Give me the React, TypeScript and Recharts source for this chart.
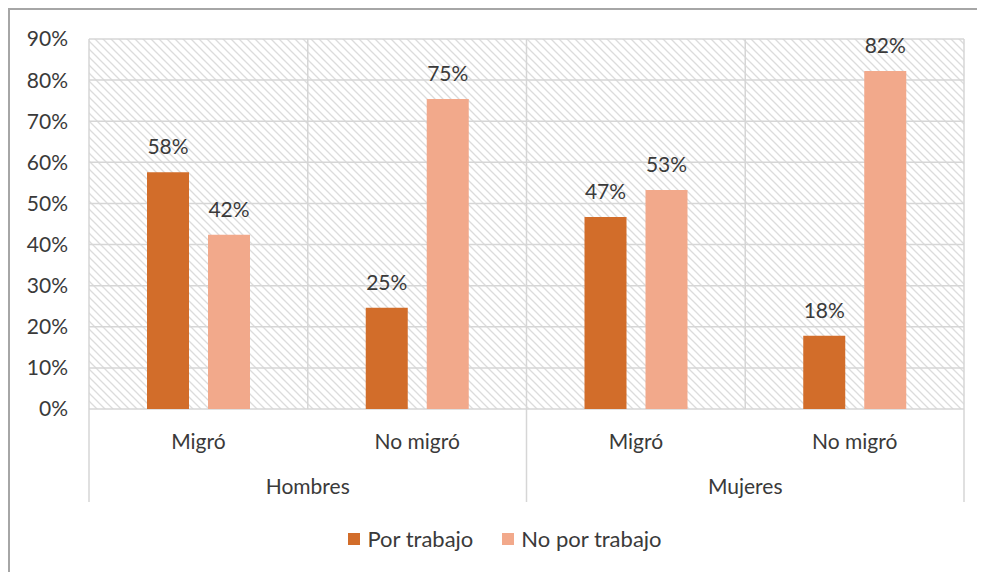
import React from 'react';
import { BarChart, Bar, XAxis, YAxis, CartesianGrid, Legend, LabelList } from 'recharts';

const categories = ['Migró', 'No migró', 'Migró', 'No migró'];
const groups = ['Hombres', 'Hombres', 'Mujeres', 'Mujeres'];
const porTrabajo = [57.6, 24.6, 46.7, 17.8];
const noPorTrabajo = [42.4, 75.4, 53.3, 82.2];
const yTicks = [0, 10, 20, 30, 40, 50, 60, 70, 80, 90];
const seriesNames = ['Por trabajo', 'No por trabajo'];

const COLORS = ['#D26D2A', '#F2A98B'];
const TEXT = '#3a3a3a';
const GRID = '#d6d6d6';
const FONT = 'Lato, "Open Sans", sans-serif';
const FS = 21;

const CHART_W = 990;
const CHART_H = 562;
const Y_W = 79;
const MARGIN = { top: 29, right: 36, left: 0, bottom: 22 };
const PLOT_W = CHART_W - MARGIN.left - MARGIN.right - Y_W;
const CAT_W = PLOT_W / categories.length;
const X_AXIS_H = 93;

const data = categories.map((sub, i) => ({
  key: i,
  sub,
  group: groups[i],
  por: porTrabajo[i],
  noPor: noPorTrabajo[i],
}));

const pct = (v: any) => `${Math.round(Number(v))}%`;

// two-level tick: sub label, plus group label and dividers on first of each group
const XTick = (props: any) => {
  const { x, y, payload } = props;
  const i = payload.index ?? props.index;
  const top = y - 8;
  const isFirst = i === 0 || groups[i] !== groups[i - 1];
  const isLast = i === groups.length - 1;
  return (
    <g>
      <text x={x} y={top + 40} textAnchor="middle" fill={TEXT} fontSize={FS} fontFamily={FONT}>
        {categories[i]}
      </text>
      {isFirst && (
        <>
          <line x1={x - CAT_W / 2} x2={x - CAT_W / 2} y1={top} y2={top + X_AXIS_H} stroke={GRID} strokeWidth={1.5} />
          <text x={x + CAT_W / 2} y={top + 85} textAnchor="middle" fill={TEXT} fontSize={FS} fontFamily={FONT}>
            {groups[i]}
          </text>
        </>
      )}
      {isLast && (
        <line x1={x + CAT_W / 2} x2={x + CAT_W / 2} y1={top} y2={top + X_AXIS_H} stroke={GRID} strokeWidth={1.5} />
      )}
    </g>
  );
};

const LegendContent = () => (
  <div
    style={{
      display: 'flex',
      justifyContent: 'center',
      paddingTop: 26,
      height: 48,
      boxSizing: 'border-box',
      fontFamily: FONT,
      fontSize: 22,
      color: TEXT,
    }}
  >
    {seriesNames.map((n, i) => (
      <div key={n} style={{ display: 'flex', alignItems: 'center', height: 22, marginRight: i === 0 ? 29 : 0 }}>
        <span style={{ display: 'inline-block', width: 12, height: 12, background: COLORS[i], marginRight: 7 }} />
        <span style={{ lineHeight: '22px' }}>{n}</span>
      </div>
    ))}
  </div>
);

export default function App() {
  return (
    <div
      style={{
        width: 975,
        height: CHART_H,
        borderLeft: '2px solid #a6a6a6',
        borderTop: '2px solid #a6a6a6',
        overflow: 'hidden',
        background: '#fff',
      }}
    >
      <BarChart width={CHART_W} height={CHART_H} data={data} margin={MARGIN} barSize={42} barGap={19}>
        <defs>
          <pattern id="hatch" patternUnits="userSpaceOnUse" width="8" height="8">
            <rect width="8" height="8" fill="#ffffff" />
            <path d="M0,0 L8,8 M-2,6 L2,10 M6,-2 L10,2" stroke="#dcdcdc" strokeWidth="1.3" />
          </pattern>
        </defs>
        <CartesianGrid
          fill="url(#hatch)"
          stroke={GRID}
          strokeWidth={1.5}
          verticalCoordinatesGenerator={({ offset }: any) =>
            [0, 1, 2, 3, 4].map((k) => offset.left + (offset.width * k) / 4)
          }
        />
        <XAxis
          dataKey="key"
          height={X_AXIS_H}
          axisLine={false}
          tickLine={false}
          interval={0}
          tick={<XTick />}
        />
        <YAxis
          width={Y_W}
          domain={[0, 90]}
          ticks={yTicks}
          axisLine={false}
          tickLine={false}
          tickMargin={15}
          tickFormatter={(v: number) => `${v}%`}
          tick={{ fill: TEXT, fontSize: FS, fontFamily: FONT }}
        />
        <Legend verticalAlign="bottom" content={<LegendContent />} wrapperStyle={{ left: 0, width: CHART_W }} />
        <Bar dataKey="por" name={seriesNames[0]} fill={COLORS[0]} isAnimationActive={false}>
          <LabelList
            dataKey="por"
            position="top"
            offset={18}
            formatter={pct}
            fill={TEXT}
            fontSize={FS}
            fontFamily={FONT}
          />
        </Bar>
        <Bar dataKey="noPor" name={seriesNames[1]} fill={COLORS[1]} isAnimationActive={false}>
          <LabelList
            dataKey="noPor"
            position="top"
            offset={18}
            formatter={pct}
            fill={TEXT}
            fontSize={FS}
            fontFamily={FONT}
          />
        </Bar>
      </BarChart>
    </div>
  );
}
